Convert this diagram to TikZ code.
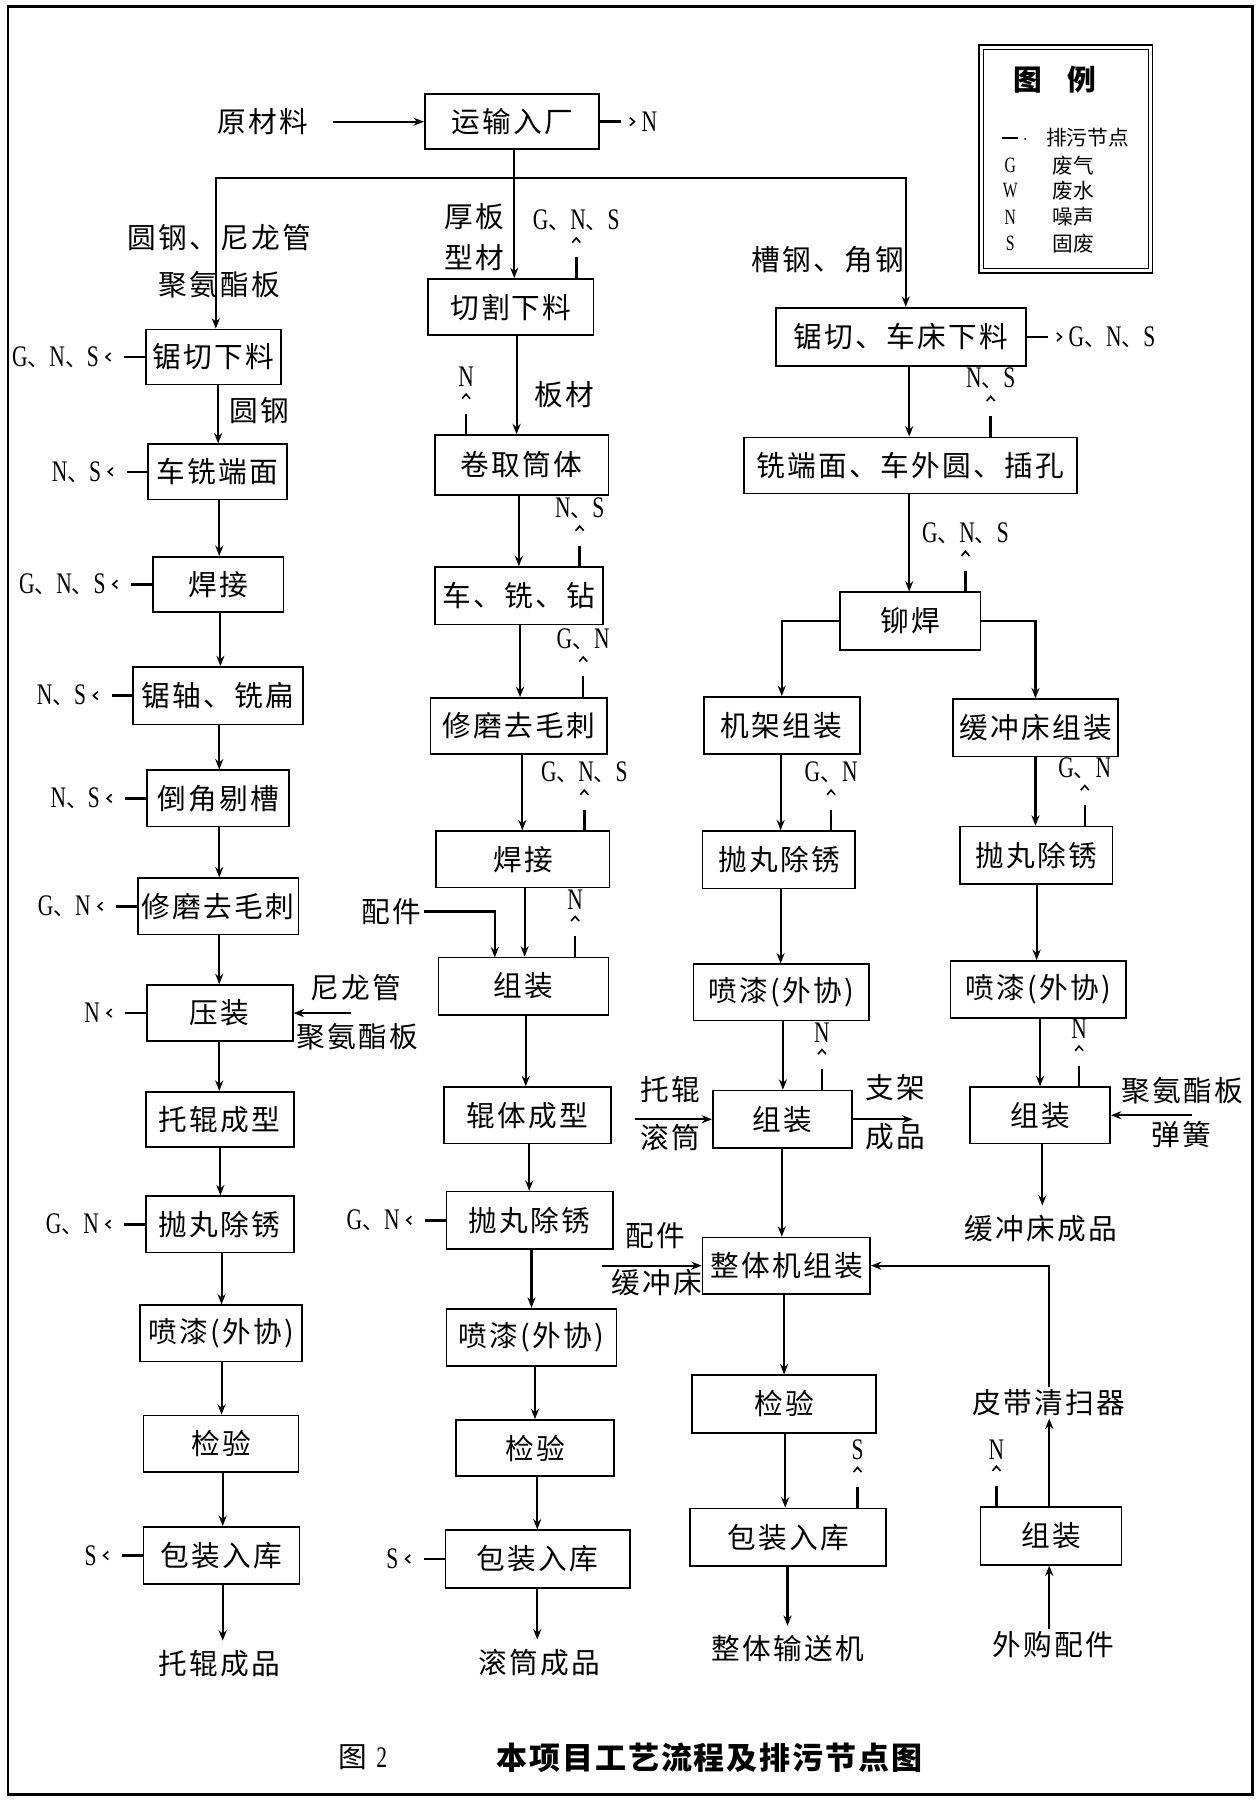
\documentclass[tikz,border=0pt]{standalone}
\usepackage{fontspec}
\setmainfont{Noto Sans CJK SC}
\newfontfamily\lat{Liberation Serif}[FakeStretch=0.72]
\newfontfamily\cjkls{Noto Sans CJK SC}[LetterSpace=8]
\usetikzlibrary{arrows.meta,calc}
\newcommand\LL[1]{{\lat\fontsize{26}{28}\selectfont #1}}
\newcommand\LS[1]{{\lat\fontsize{19}{22}\selectfont #1}}
\newcommand\bx[6]{\node[box,minimum width={#4-#2},minimum height={#5-#3}] (#1) at ({(#2+#4)/2},{(#3+#5)/2}) {#6};}
\newcommand\vflow[3]{\path (#1,0) coordinate (vx); \draw[flow] (#2.south -| vx) -- (#3.north -| vx);}
\newcommand\vflowT[3]{\path (#1,0) coordinate (vx); \draw[flow,shorten >=6pt] (#2.south -| vx) -- (#3.north -| vx);}
\newcommand\emU[4]{\path (#2,0) coordinate (#4x);
  \node[elab,anchor=south] (#4) at ($(#1.north -| #4x)+(0,-41)$) {#3};
  \draw[emit] (#1.north -| #4x) -- (#4.south -| #4x);}
\newcommand\emL[3]{\node[elab,anchor=east] (#3) at ($(#1.west)+(-40,0)$) {#2};
  \draw[emit] (#1.west) -- (#3.east);}
\newcommand\emR[3]{\node[elab,anchor=west] (#3) at ($(#1.east)+(36,0)$) {#2};
  \draw[emit] (#1.east) -- (#3.west);}
\tikzset{
  box/.style={draw, line width=1.5pt, inner sep=0pt, font=\cjkls\fontsize{25}{30}\selectfont},
  txt/.style={inner sep=2pt, font=\cjkls\fontsize{25}{30}\selectfont},
  elab/.style={inner sep=0pt, font=\fontsize{19}{24}\selectfont},
  flow/.style={line width=1.8pt, -{Stealth[length=9pt,width=7pt]}},
  plain/.style={line width=1.8pt},
  emit/.style={line width=2.2pt, dash pattern=on 18pt off 300pt, shorten >=5pt,
    -{Straight Barb[length=4pt,width=7pt,line width=1.4pt]}},
  lg/.style={inner sep=0pt, font=\fontsize{18}{22}\selectfont}
}
\begin{document}
\begin{tikzpicture}[x=1pt,y=-1pt]
\useasboundingbox (0,0) rectangle (1095,1568);
\draw[line width=2.5pt] (7,6) rectangle (1091,1563);
% legend
\draw[line width=1.6pt] (853,39) rectangle (1004,238);
\draw[line width=0.8pt] (857,43) rectangle (1000,234);
\node[inner sep=0pt,font=\bfseries\fontsize{25}{30}\selectfont] (lgt) at (919,69) {图\hspace{22pt}例};
\draw[line width=2pt] (873,120) -- (887,120);
\fill (893,121) circle (0.9pt);
\node[lg,anchor=west] (lg0) at (911,120) {排污节点};
\node[inner sep=0pt] (lgG) at (880,144) {\LS{G}};
\node[lg,anchor=west] (lg1) at (917,144) {废气};
\node[inner sep=0pt] (lgW) at (880,166) {\LS{W}};
\node[lg,anchor=west] (lg2) at (917,166) {废水};
\node[inner sep=0pt] (lgN) at (880,189) {\LS{N}};
\node[lg,anchor=west] (lg3) at (917,189) {噪声};
\node[inner sep=0pt] (lgS) at (880,212) {\LS{S}};
\node[lg,anchor=west] (lg4) at (917,212) {固废};
% top
\node[txt] (ycl) at (229,106) {原材料};
\bx{ys}{370}{82}{522}{130}{运输入厂}
\draw[flow] ([xshift=19pt]ycl.east) -- (ys.west);
\emR{ys}{\LL{N}}{e0}
\coordinate (hl) at (188,155);
\coordinate (hr) at (789,155);
\draw[plain,line cap=rect] (hl) -- (hr);
% left column
\bx{jq}{127}{287}{245}{335}{锯切下料}
\bx{cx}{129}{387}{250}{435}{车铣端面}
\bx{hj}{133}{485}{247}{533}{焊接}
\bx{jz}{116}{581}{264}{631}{锯轴、铣扁}
\bx{dj}{128}{671}{252}{720}{倒角剔槽}
\bx{xm}{120}{765}{260}{814}{修磨去毛刺}
\bx{yz}{128}{858}{255}{907}{压装}
\bx{tc}{127}{951}{256}{999}{托辊成型}
\bx{pw}{127}{1042}{256}{1091}{抛丸除锈}
\bx{pq}{122}{1137}{263}{1186}{喷漆(外协)}
\bx{jy}{125}{1233}{260}{1282}{检验}
\bx{bz}{125}{1330}{261}{1380}{包装入库}
\node[txt] (tcp) at (191,1449) {托辊成品};
\node[txt] (t1a) at (191,207) {圆钢、尼龙管};
\node[txt] (t1b) at (191,248) {聚氨酯板};
\node[txt] (t1c) at (226,358) {圆钢};
\draw[flow] (hl) -- (hl |- jq.north);
\vflow{190}{jq}{cx}
\vflow{191}{cx}{hj}
\vflow{192}{hj}{jz}
\vflow{191}{jz}{dj}
\vflow{191}{dj}{xm}
\vflow{191}{xm}{yz}
\vflow{191}{yz}{tc}
\vflow{192}{tc}{pw}
\vflow{193}{pw}{pq}
\vflow{193}{pq}{jy}
\vflow{194}{jy}{bz}
\vflowT{194}{bz}{tcp}
\emL{jq}{\LL{G}、\LL{N}、\LL{S}}{l1}
\emL{cx}{\LL{N}、\LL{S}}{l2}
\emL{hj}{\LL{G}、\LL{N}、\LL{S}}{l3}
\emL{jz}{\LL{N}、\LL{S}}{l4}
\emL{dj}{\LL{N}、\LL{S}}{l5}
\emL{xm}{\LL{G}、\LL{N}}{l6}
\emL{yz}{\LL{N}}{l7}
\emL{pw}{\LL{G}、\LL{N}}{l8}
\emL{bz}{\LL{S}}{l9}
\node[txt] (nl1) at (310,860) {尼龙管};
\node[txt] (nl2) at (311,903) {聚氨酯板};
\coordinate (in1) at (306,882.5);
\draw[flow] (in1) -- (yz.east);
% middle column
\bx{qg}{373}{243}{517}{292}{切割下料}
\bx{jt}{379}{379}{530}{431}{卷取筒体}
\bx{cz}{379}{494}{525}{544}{车、铣、钻}
\bx{xm2}{375}{608}{529}{657}{修磨去毛刺}
\bx{hj2}{380}{724}{531}{773}{焊接}
\bx{zz1}{382}{834}{530}{884}{组装}
\bx{gt}{387}{947}{532}{996}{辊体成型}
\bx{pw2}{389}{1038}{534}{1088}{抛丸除锈}
\bx{pq2}{389}{1140}{537}{1190}{喷漆(外协)}
\bx{jy2}{397}{1237}{535}{1286}{检验}
\bx{bz2}{388}{1333}{549}{1383}{包装入库}
\node[txt] (gtp) at (470,1448) {滚筒成品};
\node[txt] (m1) at (413,189) {厚板};
\node[txt] (m2) at (413,224) {型材};
\node[txt] (m3) at (492,344) {板材};
\vflow{448}{ys}{qg}
\vflow{450}{qg}{jt}
\vflow{452}{jt}{cz}
\vflow{453}{cz}{xm2}
\vflow{455}{xm2}{hj2}
\vflow{457}{hj2}{zz1}
\vflow{458}{zz1}{gt}
\vflow{461}{gt}{pw2}
\vflow{463}{pw2}{pq2}
\vflow{466}{pq2}{jy2}
\vflow{468}{jy2}{bz2}
\vflowT{468}{bz2}{gtp}
\emU{qg}{502}{\LL{G}、\LL{N}、\LL{S}}{e1}
\emU{jt}{406}{\LL{N}}{e2}
\emU{cz}{505}{\LL{N}、\LL{S}}{e3}
\emU{xm2}{508}{\LL{G}、\LL{N}}{e4}
\emU{hj2}{509}{\LL{G}、\LL{N}、\LL{S}}{e5}
\emU{zz1}{501}{\LL{N}}{e6}
\emL{pw2}{\LL{G}、\LL{N}}{e7}
\emL{bz2}{\LL{S}}{e8}
\node[txt] (pj1) at (341,794) {配件};
\coordinate (pjc) at (431,834);
\draw[flow] (pj1.east) -| (pjc);
% right part
\node[txt] (r0) at (721,226) {槽钢、角钢};
\bx{jc}{676}{268}{894}{319}{锯切、车床下料}
\bx{xd}{648}{381}{938}{430}{铣端面、车外圆、插孔}
\bx{mh}{732}{516}{854}{566}{铆焊}
\bx{jj}{613}{607}{749}{657}{机架组装}
\bx{hc}{830}{609}{974}{659}{缓冲床组装}
\bx{pw3}{612}{724}{745}{774}{抛丸除锈}
\bx{pw4}{836}{720}{969}{770}{抛丸除锈}
\bx{pq3}{604}{840}{757}{889}{喷漆(外协)}
\bx{pq4}{828}{837}{981}{887}{喷漆(外协)}
\bx{zz2}{621}{950}{742}{1000}{组装}
\bx{zz3}{845}{947}{967}{996}{组装}
\bx{zt}{612}{1078}{758}{1127}{整体机组装}
\bx{jy3}{603}{1198}{763}{1248}{检验}
\bx{bz3}{601}{1314}{772}{1364}{包装入库}
\bx{zz4}{854}{1313}{977}{1363}{组装}
\node[txt] (ntj) at (686,1436) {整体输送机};
\node[txt] (pd) at (914,1222) {皮带清扫器};
\node[txt] (wg) at (918,1433) {外购配件};
\node[txt] (hcp) at (907,1070) {缓冲床成品};
\node[txt] (tg) at (584,949) {托辊};
\node[txt] (gtb) at (584,991) {滚筒};
\node[txt] (zj) at (780,947) {支架};
\node[txt] (cp) at (780,990) {成品};
\node[txt] (jaz) at (1030,950) {聚氨酯板};
\node[txt] (th) at (1029,988) {弹簧};
\node[txt] (pj2) at (571,1076) {配件};
\node[txt] (hcc) at (572,1117) {缓冲床};
\draw[flow] (hr) -- (hr |- jc.north);
\vflow{792}{jc}{xd}
\vflow{792}{xd}{mh}
\draw[flow] (mh.west) -| (jj.north);
\draw[flow] (mh.east) -| (hc.north);
\vflow{680}{jj}{pw3}
\vflow{902}{hc}{pw4}
\vflow{680}{pw3}{pq3}
\vflow{903}{pw4}{pq4}
\vflow{682}{pq3}{zz2}
\vflow{906}{pq4}{zz3}
\vflow{681}{zz2}{zt}
\vflow{683}{zt}{jy3}
\vflow{684}{jy3}{bz3}
\vflowT{686}{bz3}{ntj}
\vflowT{908}{zz3}{hcp}
\coordinate (in2) at (553,975);
\draw[flow] (in2) -- (zz2.west);
\coordinate (out2) at (795,975);
\draw[flow] (zz2.east) -- (out2);
\coordinate (in3) at (1038,971.5);
\draw[flow] (in3) -- (zz3.east);
\coordinate (in4) at (524,1102.5);
\draw[flow] (in4) -- (zt.west);
\path (914,0) coordinate (ux);
\draw[flow] (wg.north -| ux) -- (zz4.south -| ux);
\draw[flow] (zz4.north -| ux) -- (pd.south -| ux);
\draw[flow] (pd.north -| ux) |- (zt.east);
\emR{jc}{\LL{G}、\LL{N}、\LL{S}}{r1}
\emU{xd}{863}{\LL{N}、\LL{S}}{r2}
\emU{mh}{841}{\LL{G}、\LL{N}、\LL{S}}{r3}
\emU{pw3}{724}{\LL{G}、\LL{N}}{r4}
\emU{pw4}{945}{\LL{G}、\LL{N}}{r5}
\emU{zz2}{716}{\LL{N}}{r6}
\emU{zz3}{940}{\LL{N}}{r7}
\emU{bz3}{747}{\LL{S}}{r8}
\emU{zz4}{868}{\LL{N}}{r9}
% title
\node[inner sep=0pt,font=\fontsize{25}{30}\selectfont] (tt1) at (316,1531) {图\hspace{8pt}\LL{2}};
\node[inner sep=0pt,font=\bfseries\fontsize{27}{32}\selectfont\addfontfeature{LetterSpace=6}] (tt2) at (618,1531) {本项目工艺流程及排污节点图};
\end{tikzpicture}
\end{document}
